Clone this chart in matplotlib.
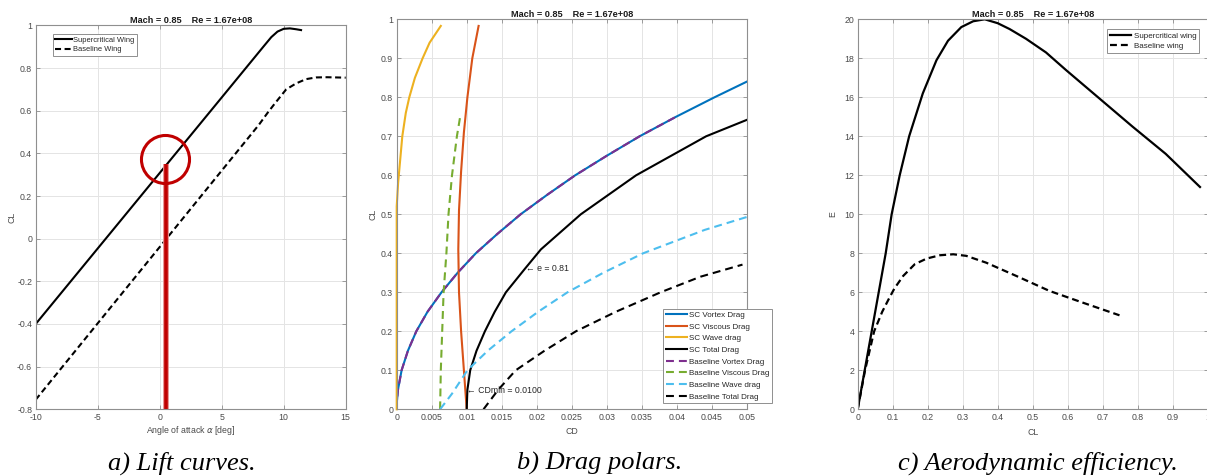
import matplotlib
matplotlib.use("Agg")
import matplotlib.pyplot as plt
from matplotlib.ticker import FuncFormatter, MultipleLocator

plt.rcParams["font.family"] = ["Liberation Sans", "DejaVu Sans"]
plt.rcParams["axes.unicode_minus"] = False

title_text = "Mach = 0.85    Re = 1.67e+08"

# a) lift curves
sc_alpha = [-10, -5, 0, 5, 8.4, 9.0, 9.5, 10.0, 10.5, 11.0, 11.4]
sc_cl = [-0.40, -0.046, 0.308, 0.662, 0.903, 0.945, 0.971, 0.984, 0.986, 0.982, 0.978]
base_alpha = [-10, -5, 0, 5, 8.0, 8.7, 9.3, 10.2, 11.0, 11.8, 12.6, 13.5, 15]
base_cl = [-0.755, -0.397, -0.039, 0.319, 0.534, 0.59, 0.635, 0.70, 0.728, 0.748, 0.756, 0.757, 0.755]
design_alpha = 0.48
design_cl = 0.35
circle_alpha = 0.42
circle_cl = 0.374

# b) drag polars
sc_vortex_cl = [0, 0.02, 0.05, 0.1, 0.15, 0.2, 0.25, 0.3, 0.35, 0.4, 0.45, 0.5, 0.55, 0.6, 0.65, 0.7, 0.75, 0.8, 0.84]
sc_vortex_cd = [0, 0.00003, 0.00018, 0.0007, 0.0016, 0.0028, 0.0044, 0.0064, 0.0087, 0.0113, 0.0144,
                0.0177, 0.0215, 0.0255, 0.0300, 0.0347, 0.0399, 0.0454, 0.0500]
sc_viscous_cl = [0, 0.1, 0.2, 0.3, 0.41, 0.51, 0.61, 0.71, 0.8, 0.9, 0.983]
sc_viscous_cd = [0.0100, 0.0096, 0.0092, 0.0089, 0.0088, 0.0089, 0.0092, 0.0096, 0.0101, 0.0108, 0.0117]
sc_wave_cl = [0, 0.52, 0.58, 0.64, 0.7, 0.76, 0.8, 0.85, 0.9, 0.94, 0.983]
sc_wave_cd = [0, 0, 0.0002, 0.0005, 0.0008, 0.0013, 0.0018, 0.0026, 0.0037, 0.0047, 0.0063]
sc_total_cl = [0, 0.05, 0.1, 0.15, 0.2, 0.25, 0.3, 0.36, 0.41, 0.5, 0.6, 0.7, 0.742]
sc_total_cd = [0.0100, 0.0101, 0.0105, 0.0114, 0.0126, 0.0140, 0.0156, 0.0183, 0.0206, 0.0263, 0.0342, 0.0442, 0.0500]
bl_vortex_cl = [0, 0.02, 0.05, 0.1, 0.15, 0.2, 0.25, 0.3, 0.35, 0.4, 0.45, 0.5, 0.55, 0.6, 0.65, 0.7, 0.75]
bl_vortex_cd = [0, 0.00003, 0.00018, 0.0007, 0.0016, 0.0028, 0.0044, 0.0064, 0.0087, 0.0113, 0.0144,
                0.0177, 0.0215, 0.0255, 0.0300, 0.0347, 0.0399]
bl_viscous_cl = [0, 0.1, 0.2, 0.3, 0.4, 0.5, 0.6, 0.7, 0.754]
bl_viscous_cd = [0.0062, 0.0063, 0.0065, 0.0067, 0.0071, 0.0074, 0.0079, 0.0086, 0.0091]
bl_wave_cl = [0, 0.04, 0.1, 0.15, 0.2, 0.25, 0.3, 0.35, 0.4, 0.46, 0.493]
bl_wave_cd = [0.0062, 0.0079, 0.0101, 0.0130, 0.0164, 0.0202, 0.0244, 0.0295, 0.0352, 0.0440, 0.0500]
bl_total_cl = [0, 0.05, 0.1, 0.15, 0.2, 0.25, 0.3, 0.34, 0.371]
bl_total_cd = [0.0124, 0.0145, 0.0170, 0.0211, 0.0256, 0.0313, 0.0377, 0.0434, 0.0494]
e_point = (0.0185, 0.362)
cdmin_point = (0.0101, 0.049)

# c) aerodynamic efficiency
sc_eff_cl = [0, 0.02, 0.04, 0.06, 0.08, 0.097, 0.12, 0.147, 0.186, 0.225, 0.258, 0.296, 0.33, 0.363,
             0.40, 0.434, 0.481, 0.538, 0.595, 0.69, 0.785, 0.88, 0.978]
sc_eff_e = [0, 2.0, 4.0, 6.0, 8.0, 10.0, 12.0, 14.0, 16.2, 17.9, 18.9, 19.6, 19.9, 20.0,
            19.8, 19.5, 19.0, 18.3, 17.4, 15.95, 14.5, 13.1, 11.4]
bl_eff_cl = [0, 0.021, 0.047, 0.07, 0.09, 0.105, 0.13, 0.163, 0.197, 0.235, 0.273, 0.31, 0.367,
             0.453, 0.548, 0.643, 0.748]
bl_eff_e = [0, 2.0, 4.0, 5.0, 5.7, 6.2, 6.84, 7.44, 7.73, 7.9, 7.95, 7.87, 7.52, 6.84, 6.07, 5.47, 4.82]

blue, orange, yellow = "#0072BD", "#D95319", "#EDB120"
purple, green, cyan = "#7E2F8E", "#77AC30", "#4DBEEE"
red = "#C00000"

W, H = 1207, 476
fig = plt.figure(figsize=(W / 100, H / 100), dpi=100)
ax1 = fig.add_axes([35.7 / W, 1 - 409.3 / H, 310 / W, 383.9 / H])
ax2 = fig.add_axes([396.7 / W, 1 - 409.3 / H, 350 / W, 390 / H])
ax3 = fig.add_axes([857.7 / W, 1 - 409.3 / H, 350 / W, 390 / H])

fmt = FuncFormatter(lambda v, p: "%g" % (round(v, 6) + 0.0))


def style(ax, xlim, ylim, xstep, ystep):
    ax.set_xlim(xlim)
    ax.set_ylim(ylim)
    ax.xaxis.set_major_locator(MultipleLocator(xstep))
    ax.yaxis.set_major_locator(MultipleLocator(ystep))
    ax.xaxis.set_major_formatter(fmt)
    ax.yaxis.set_major_formatter(fmt)
    ax.grid(True, color="#e4e4e4", lw=0.7)
    ax.set_axisbelow(True)
    for s in ax.spines.values():
        s.set_color("#8f8f8f")
        s.set_linewidth(0.8)
    ax.tick_params(direction="in", top=True, right=True, length=3, width=0.6,
                   color="#8f8f8f", labelcolor="#4a4a4a", labelsize=6.3, pad=2.5)
    ax.set_title(title_text, fontsize=6.6, fontweight="bold", color="#1a1a1a", pad=2)


def legend(ax, size=5.8, spacing=0.35, hl=2.7, **kw):
    leg = ax.legend(fontsize=size, frameon=True, fancybox=False, framealpha=1, edgecolor="#8f8f8f",
                    borderpad=0.35, labelspacing=spacing, handlelength=hl, handletextpad=0.25,
                    borderaxespad=0, **kw)
    leg.get_frame().set_linewidth(0.7)
    for t in leg.get_texts():
        t.set_color("#262626")
    return leg


# a) lift curves
style(ax1, (-10, 15), (-0.8, 1), 5, 0.2)
ax1.plot(sc_alpha, sc_cl, color="black", lw=1.5, label="Supercritical Wing")
ax1.plot(base_alpha, base_cl, color="black", lw=1.5, dashes=(2.9, 1.7), label="Baseline Wing")
ax1.plot([design_alpha, design_alpha], [-0.8, design_cl], color="#e89090", lw=4.2, solid_capstyle="butt")
ax1.plot([design_alpha, design_alpha], [-0.8, design_cl], color=red, lw=2.6, solid_capstyle="butt")
ax1.plot(circle_alpha, circle_cl, "o", ms=34.6, mfc="none", mec=red, mew=2.2)
ax1.set_xlabel(r"Angle of attack $\alpha$ [deg]", fontsize=6.3, color="#4a4a4a", va="center")
ax1.set_ylabel("CL", fontsize=6.3, color="#4a4a4a", va="center", ha="center")
ax1.xaxis.set_label_coords(0.5, -0.054)
ax1.yaxis.set_label_coords(-0.077, 0.5)
legend(ax1, size=5.4, spacing=0.3, hl=2.15, loc="upper left", bbox_to_anchor=(0.055, 0.978))

# b) drag polars
style(ax2, (0, 0.05), (0, 1), 0.005, 0.1)
d = (3.8, 2.4)
ax2.plot(sc_vortex_cd, sc_vortex_cl, color=blue, lw=1.5, label="SC Vortex Drag")
ax2.plot(sc_viscous_cd, sc_viscous_cl, color=orange, lw=1.5, label="SC Viscous Drag")
ax2.plot(sc_wave_cd, sc_wave_cl, color=yellow, lw=1.5, label="SC Wave drag", clip_on=False)
ax2.plot(sc_total_cd, sc_total_cl, color="black", lw=1.5, label="SC Total Drag")
ax2.plot(bl_vortex_cd, bl_vortex_cl, color=purple, lw=1.5, dashes=d, label="Baseline Vortex Drag")
ax2.plot(bl_viscous_cd, bl_viscous_cl, color=green, lw=1.5, dashes=d, label="Baseline Viscous Drag")
ax2.plot(bl_wave_cd, bl_wave_cl, color=cyan, lw=1.5, dashes=d, label="Baseline Wave drag")
ax2.plot(bl_total_cd, bl_total_cl, color="black", lw=1.5, dashes=d, label="Baseline Total Drag")
ax2.text(e_point[0], e_point[1], "\u2190 e = 0.81", fontsize=6.3, color="#262626", ha="left", va="center")
ax2.text(cdmin_point[0], cdmin_point[1], "\u2190 CDmin = 0.0100", fontsize=6.3, color="#262626",
         ha="left", va="center")
ax2.set_xlabel("CD", fontsize=6.3, color="#4a4a4a", va="center")
ax2.set_ylabel("CL", fontsize=6.3, color="#4a4a4a", va="center", ha="center")
ax2.xaxis.set_label_coords(0.5, -0.057)
ax2.yaxis.set_label_coords(-0.069, 0.5)
legend(ax2, spacing=0.5, loc="lower left", bbox_to_anchor=(0.76, 0.015))

# c) aerodynamic efficiency
style(ax3, (0, 1), (0, 20), 0.1, 2)
ax3.plot(sc_eff_cl, sc_eff_e, color="black", lw=1.6, label="Supercritical wing")
ax3.plot(bl_eff_cl, bl_eff_e, color="black", lw=1.6, dashes=(3.1, 1.8), label="Baseline wing")
ax3.set_xlabel("CL", fontsize=6.3, color="#4a4a4a", va="center")
ax3.set_ylabel("E", fontsize=6.3, color="#4a4a4a", va="center", ha="center")
ax3.xaxis.set_label_coords(0.5, -0.059)
ax3.yaxis.set_label_coords(-0.07, 0.5)
legend(ax3, loc="upper right", bbox_to_anchor=(0.975, 0.975))

# captions
cap = dict(family="Liberation Serif", style="italic", fontsize=19, ha="center", va="baseline")
fig.text(181.7 / W, 1 - 470 / H, "a) Lift curves.", **cap)
fig.text(600 / W, 1 - 470 / H, "b) Drag polars.", **cap)
fig.text(1038 / W, 1 - 470 / H, "c) Aerodynamic efficiency.", **cap)

fig.savefig("out.png", dpi=100)
